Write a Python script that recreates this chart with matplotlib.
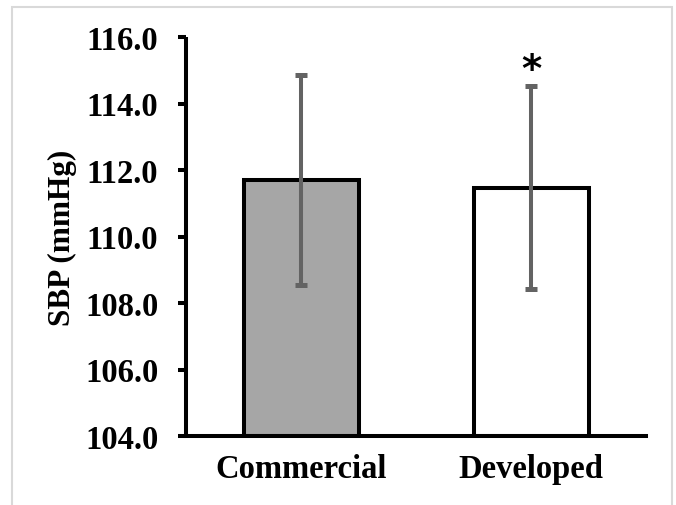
import matplotlib
matplotlib.use("Agg")
import matplotlib.pyplot as plt
from matplotlib.patches import Rectangle

categories = ["Commercial", "Developed"]
means = [111.70, 111.47]
errors = [3.17, 3.06]
bar_colors = ["#A6A6A6", "#FFFFFF"]
yticks = [104.0, 106.0, 108.0, 110.0, 112.0, 114.0, 116.0]
ylabel = "SBP (mmHg)"
significance = ["", "*"]

plt.rcParams["font.family"] = ["Liberation Serif", "DejaVu Serif"]

fig = plt.figure(figsize=(6.76, 5.06), dpi=100)
ax = fig.add_axes([186/676, 1-437/506, (646-186)/676, (437-38)/506])

x = list(range(len(categories)))
ax.bar(x, [m - yticks[0] for m in means], bottom=yticks[0], width=0.5,
       color=bar_colors, edgecolor="black", linewidth=2.9, zorder=2)
ax.errorbar(x, means, yerr=errors, fmt="none", ecolor="#636363",
            elinewidth=2.9, capsize=4.3, capthick=3.6, zorder=3)
for xi, m, e, s in zip(x, means, errors, significance):
    if s:
        ax.annotate(s, (xi, m + e), xytext=(0, -2), textcoords="offset points",
                    ha="center", va="bottom", fontsize=28, fontweight="bold",
                    family=["DejaVu Sans"], color="black")

ax.set_xlim(-0.5, 1.5)
ax.set_ylim(yticks[0], yticks[-1])
ax.set_yticks(yticks)
ax.set_yticklabels([f"{t:.1f}" for t in yticks], fontsize=23.5, fontweight="bold")
ax.set_xticks(x)
ax.set_xticklabels(categories, fontsize=23.5, fontweight="bold")
ax.tick_params(axis="y", direction="out", length=6, width=2.9, pad=14)
ax.tick_params(axis="x", length=0, pad=12)
ax.set_ylabel(ylabel, fontsize=22.5, fontweight="bold", labelpad=6)
for sp in ["top", "right"]:
    ax.spines[sp].set_visible(False)
for sp in ["left", "bottom"]:
    ax.spines[sp].set_linewidth(2.9)
ax.spines["left"].set_capstyle("butt")

fig.patches.append(Rectangle((12/676, -0.1), (672-12)/676, 1.1 - 8/506,
                             transform=fig.transFigure, fill=False,
                             edgecolor="#D9D9D9", linewidth=1.5))

fig.savefig("out.png", dpi=100)
